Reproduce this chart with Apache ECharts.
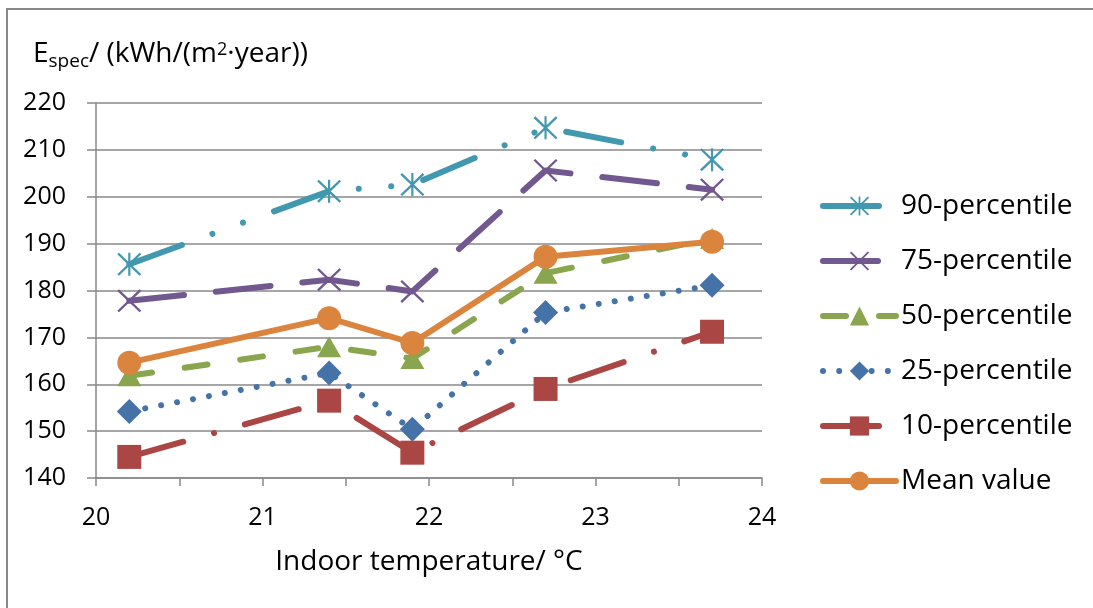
<!DOCTYPE html>
<html>
<head>
<meta charset="utf-8">
<title>Specific energy demand vs. indoor temperature</title>
<script src="https://cdn.jsdelivr.net/npm/echarts@6/dist/echarts.min.js"></script>
<style>
  html, body { margin: 0; padding: 0; background: #ffffff; }
  #chart { width: 1093px; height: 608px; }
</style>
</head>
<body>
<div id="chart"></div>
<script>
// Indoor temperature classes (°C) on the x axis
const temperatures = [20.2, 21.4, 21.9, 22.7, 23.7];

// Specific energy demand E_spec in kWh/(m²·year)
const p90 = [185.6, 201.2, 202.6, 214.7, 207.9];
const p75 = [177.8, 182.3, 179.8, 205.6, 201.5];
const p50 = [161.8, 168.0, 165.5, 183.7, 191.1];
const p25 = [154.2, 162.4, 150.4, 175.3, 181.1];
const p10 = [144.5, 156.5, 145.4, 159.0, 171.2];
const meanValues = [164.6, 174.1, 168.8, 187.2, 190.4];

const seriesNames = ['90-percentile', '75-percentile', '50-percentile', '25-percentile', '10-percentile', 'Mean value'];
const xTicks = [20, 21, 22, 23, 24];
const yTicks = [140, 150, 160, 170, 180, 190, 200, 210, 220];

const FONT = 'Open Sans';
const AXIS_GREY = '#898989';
const LINE_W = 6;

// Marker shapes drawn as filled outlines: asterisk and cross
const starSymbol = 'path://M45.5,0 L54.5,0 L54.5,100 L45.5,100 Z M0,7 L7,0 L100,93 L93,100 Z M93,0 L100,7 L7,100 L0,93 Z';
const crossSymbol = 'path://M0,7 L7,0 L100,93 L93,100 Z M93,0 L100,7 L7,100 L0,93 Z';

const pairs = vals => temperatures.map((t, i) => [t, vals[i]]);

function lineSeries(name, vals, color, dash, symbol, symbolSize) {
  return {
    name: name,
    type: 'line',
    data: pairs(vals),
    symbol: symbol,
    symbolSize: symbolSize,
    showSymbol: true,
    lineStyle: { color: color, width: LINE_W, type: dash, cap: 'round', join: 'round' },
    itemStyle: { color: color, borderWidth: 0 },
    emphasis: { disabled: true }
  };
}

const chart = echarts.init(document.getElementById('chart'), null, { renderer: 'canvas' });

chart.setOption({
  animation: false,
  backgroundColor: '#ffffff',
  textStyle: { fontFamily: FONT },
  grid: { left: 96, right: 331, top: 103, bottom: 130, containLabel: false },
  graphic: [
    {
      // chart frame (top and left edges fall inside the canvas)
      type: 'rect',
      silent: true,
      shape: { x: 7, y: 9, width: 1300, height: 800 },
      style: { fill: 'none', stroke: AXIS_GREY, lineWidth: 2 },
      z: -1
    },
    {
      // y-axis title with subscript and superscript
      type: 'text',
      silent: true,
      left: 33,
      top: 37,
      style: {
        text: '{m|E}{sub|spec}{m|/ (kWh/(m}{sup|2}{m|·year))}',
        fill: '#000',
        rich: {
          m: { fontFamily: FONT, fontSize: 28, lineHeight: 34, fill: '#000' },
          sub: { fontFamily: FONT, fontSize: 19, lineHeight: 19, verticalAlign: 'bottom', fill: '#000' },
          sup: { fontFamily: FONT, fontSize: 18, lineHeight: 18, verticalAlign: 'top', padding: [4, 0, 0, 0], fill: '#000' }
        }
      }
    }
  ],
  legend: {
    orient: 'vertical',
    left: 815,
    top: 186,
    itemWidth: 73,
    itemHeight: 24,
    itemGap: 25,
    data: seriesNames,
    lineStyle: { width: 'inherit' },
    textStyle: { fontFamily: FONT, fontSize: 28, lineHeight: 30, color: '#000' },
    selectedMode: false
  },
  xAxis: {
    type: 'value',
    min: xTicks[0],
    max: xTicks[xTicks.length - 1],
    interval: 1,
    name: 'Indoor temperature/ °C',
    nameLocation: 'middle',
    nameGap: 69,
    nameTextStyle: { fontFamily: FONT, fontSize: 28, lineHeight: 30, color: '#000' },
    axisLine: { show: true, lineStyle: { color: AXIS_GREY, width: 1.5 } },
    axisTick: { show: true, inside: false, length: 8, lineStyle: { color: AXIS_GREY, width: 1.5 } },
    minorTick: { show: true, splitNumber: 2, length: 8, lineStyle: { color: AXIS_GREY, width: 1.5 } },
    splitLine: { show: false },
    axisLabel: { fontFamily: FONT, fontSize: 25, lineHeight: 26, color: '#000', margin: 27 }
  },
  yAxis: {
    type: 'value',
    min: yTicks[0],
    max: yTicks[yTicks.length - 1],
    interval: 10,
    axisLine: { show: true, lineStyle: { color: AXIS_GREY, width: 1.5 } },
    axisTick: { show: true, inside: false, length: 9, lineStyle: { color: AXIS_GREY, width: 1.5 } },
    splitLine: { show: true, lineStyle: { color: AXIS_GREY, width: 1.5 } },
    axisLabel: { fontFamily: FONT, fontSize: 25, color: '#000', margin: 30 }
  },
  series: [
    lineSeries(seriesNames[0], p90, '#4198AF', [56, 32.5, 0.01, 32.5, 0.01, 33], starSymbol, [24, 23]),
    lineSeries(seriesNames[1], p75, '#71588F', [55, 32], crossSymbol, [24, 23]),
    lineSeries(seriesNames[2], p50, '#89A54E', [23, 33], 'triangle', [24, 21]),
    lineSeries(seriesNames[3], p25, '#4572A7', [0.01, 16.2], 'diamond', 25),
    lineSeries(seriesNames[4], p10, '#AA4643', [56, 32, 0.01, 32], 'rect', 24),
    lineSeries(seriesNames[5], meanValues, '#DB843D', 'solid', 'circle', 24)
  ]
});
</script>
</body>
</html>
